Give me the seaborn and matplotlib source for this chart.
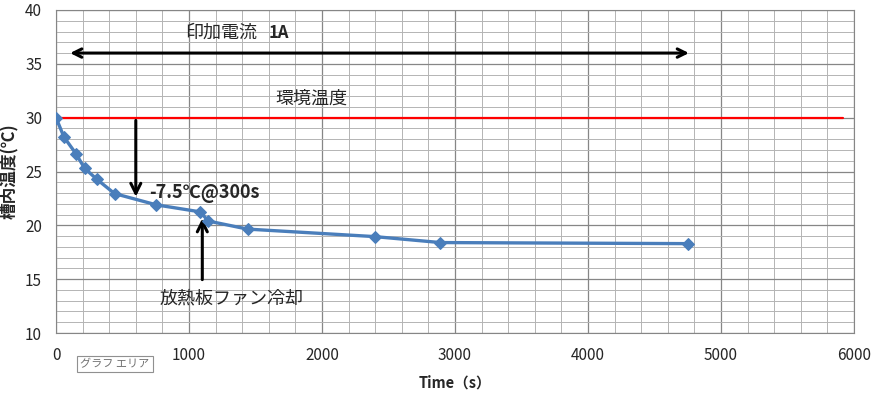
import numpy as np
import pandas as pd
import matplotlib
matplotlib.use("Agg")
import matplotlib.pyplot as plt
import seaborn as sns

time_s = [0, 60, 150, 215, 305, 440, 755, 1085, 1145, 1440, 2400, 2890, 4750]
temp_c = [30.0, 28.2, 26.65, 25.3, 24.3, 22.95, 21.9, 21.25, 20.4, 19.65, 18.95, 18.4, 18.3]
ambient_t = [0, 5915]
ambient_c = [30.0, 30.0]

x_ticks = [0, 1000, 2000, 3000, 4000, 5000, 6000]
y_ticks = [10, 15, 20, 25, 30, 35, 40]

df = pd.DataFrame({"Time": time_s, "Temp": temp_c})

sns.set_style("white")
plt.rcParams["font.family"] = ["Noto Sans CJK JP", "DejaVu Sans"]

fig = plt.figure(figsize=(8.72, 3.98), dpi=100)
ax = fig.add_axes([56 / 872, 1 - 333 / 398, (854 - 56) / 872, (333 - 10) / 398])

# grid like excel
ax.set_xticks(x_ticks)
ax.set_yticks(y_ticks)
ax.set_xticks(np.arange(0, 6001, 200), minor=True)
ax.set_yticks(np.arange(10, 41, 1), minor=True)
ax.grid(which="major", color="#868686", lw=0.9)
ax.grid(which="minor", color="#b4b4b4", lw=0.7)
ax.set_axisbelow(True)

ax.plot(ambient_t, ambient_c, color="#ff0000", lw=1.6, zorder=3)
sns.lineplot(data=df, x="Time", y="Temp", ax=ax, color="#4a7ebb", lw=2.4,
             marker="D", markersize=6, markeredgecolor="#4a7ebb", zorder=4)

ax.set_xlim(0, 6000)
ax.set_ylim(10, 40)
ax.tick_params(which="major", direction="out", length=4, color="#868686",
               labelsize=11, pad=6)
ax.tick_params(which="minor", length=0)
for side in ["top", "right", "left", "bottom"]:
    ax.spines[side].set_color("#868686")

ax.set_xlabel("Time（s）", fontsize=10.5, fontweight="bold", labelpad=8)
ax.set_ylabel("槽内温度(℃)", fontsize=12, fontweight="bold", labelpad=4)

# annotations
ax.annotate("", xy=(85, 36), xytext=(4780, 36),
            arrowprops=dict(arrowstyle="<->", color="black", lw=2.2, mutation_scale=15))
ax.text(970, 37.9, "印加電流", fontsize=13, ha="left", va="center")
ax.text(1600, 37.9, "1A", fontsize=12, fontweight="bold", ha="left", va="center")
ax.text(1650, 31.8, "環境温度", fontsize=13, ha="left", va="center")

ax.annotate("", xy=(600, 22.4), xytext=(600, 30),
            arrowprops=dict(arrowstyle="->", color="black", lw=2.2, mutation_scale=18))
ax.text(700, 23.0, "-7.5℃@300s", fontsize=13, fontweight="bold", ha="left", va="center")

ax.annotate("", xy=(1100, 20.9), xytext=(1100, 14.7),
            arrowprops=dict(arrowstyle="->", color="black", lw=2.2, mutation_scale=18))
ax.text(780, 13.2, "放熱板ファン冷却", fontsize=13, ha="left", va="center")

# excel tooltip left in the screenshot
fig.text(80 / 872, 1 - 364 / 398, "グラフ エリア", fontsize=8, color="#707070",
         ha="left", va="center",
         bbox=dict(boxstyle="square,pad=0.3", fc="white", ec="#909090", lw=0.8))

fig.savefig("out.png", dpi=100)
